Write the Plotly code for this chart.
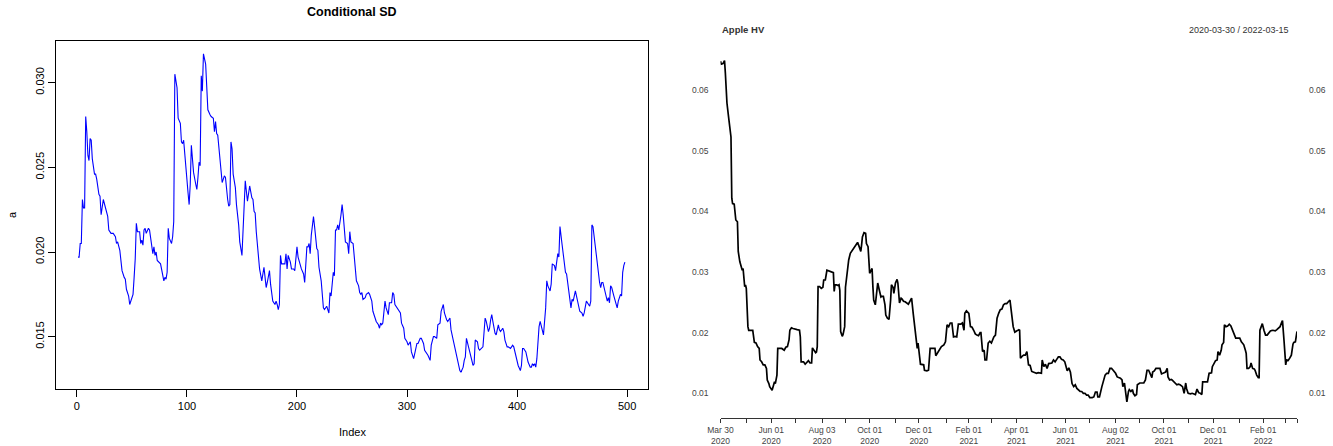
import pandas as pd
import plotly.graph_objects as go

# ---------------- Left panel: Conditional SD (index, value) ----------------
cond_index = [1, 2, 3, 4, 5, 6, 7, 8, 9, 10, 11, 12, 13, 14, 16, 17, 18, 20, 21, 22,
              24, 26, 28, 29, 31, 33, 35, 36, 37, 39, 40, 41, 43, 44, 45, 47, 48, 49, 51, 52,
              53, 54, 55, 57, 58, 59, 60, 61, 62, 63, 65, 66, 68, 69, 70, 71, 72, 73, 76, 77,
              79, 80, 81, 82, 83, 84, 86, 87, 88, 89, 91, 92, 94, 95, 96, 97, 98, 100, 101, 102,
              103, 104, 105, 106, 108, 109, 110, 111, 112, 113, 114, 115, 117, 118, 119, 121, 122, 124, 125, 126,
              127, 128, 130, 131, 132, 134, 135, 137, 138, 139, 140, 141, 142, 144, 145, 147, 148, 150, 151, 152,
              153, 155, 156, 157, 159, 160, 161, 162, 163, 165, 166, 168, 169, 170, 171, 172, 173, 175, 176, 177,
              178, 180, 181, 182, 183, 184, 185, 186, 188, 189, 190, 191, 192, 194, 195, 197, 198, 200, 201, 203,
              204, 206, 207, 209, 210, 211, 212, 213, 215, 216, 218, 219, 220, 222, 223, 224, 225, 227, 228, 229,
              230, 231, 233, 234, 235, 236, 237, 238, 240, 241, 242, 243, 244, 246, 247, 248, 249, 251, 252, 253,
              254, 256, 257, 258, 259, 260, 262, 263, 265, 266, 268, 269, 271, 272, 274, 275, 276, 277, 278, 280,
              281, 283, 284, 286, 287, 288, 289, 291, 292, 294, 295, 297, 298, 300, 301, 303, 304, 306, 307, 309,
              310, 312, 313, 315, 316, 318, 319, 321, 322, 324, 325, 327, 328, 330, 331, 333, 334, 336, 337, 339,
              340, 342, 343, 345, 347, 348, 349, 351, 352, 353, 354, 356, 357, 359, 360, 361, 362, 364, 365, 366,
              368, 369, 371, 372, 374, 375, 376, 377, 378, 380, 381, 383, 384, 385, 387, 388, 389, 391, 392, 394,
              395, 396, 397, 398, 400, 401, 403, 404, 405, 406, 408, 409, 410, 412, 413, 414, 415, 416, 417, 418,
              420, 421, 422, 424, 425, 426, 427, 428, 430, 431, 432, 434, 435, 436, 437, 438, 439, 441, 442, 444,
              445, 447, 448, 449, 450, 451, 453, 454, 456, 457, 459, 460, 461, 462, 463, 465, 466, 467, 468, 469,
              471, 472, 474, 475, 476, 477, 478, 480, 481, 482, 483, 484, 485, 486, 488, 489, 490, 491, 492, 494,
              495, 496, 497, 498]
cond_sd = [0.0197, 0.0197, 0.0205, 0.0205, 0.0231, 0.0226, 0.0226, 0.0280, 0.0271, 0.0257, 0.0254, 0.0267, 0.0266, 0.0255, 0.0246, 0.0246, 0.0243, 0.0234, 0.0233, 0.0222,
           0.0231, 0.0226, 0.0221, 0.0213, 0.0211, 0.0211, 0.0209, 0.0205, 0.0206, 0.0201, 0.0196, 0.0189, 0.0185, 0.0184, 0.0178, 0.0174, 0.0169, 0.0171, 0.0175, 0.0185,
           0.0196, 0.0217, 0.0212, 0.0212, 0.0205, 0.0207, 0.0204, 0.0213, 0.0214, 0.0211, 0.0214, 0.0213, 0.0205, 0.0199, 0.0203, 0.0198, 0.0200, 0.0195, 0.0193, 0.0190,
           0.0183, 0.0185, 0.0184, 0.0188, 0.0214, 0.0208, 0.0205, 0.0209, 0.0218, 0.0305, 0.0297, 0.0279, 0.0276, 0.0265, 0.0264, 0.0266, 0.0257, 0.0244, 0.0235, 0.0228,
           0.0240, 0.0263, 0.0257, 0.0247, 0.0240, 0.0237, 0.0244, 0.0253, 0.0251, 0.0304, 0.0295, 0.0317, 0.0311, 0.0299, 0.0284, 0.0281, 0.0280, 0.0279, 0.0271, 0.0277,
           0.0270, 0.0269, 0.0255, 0.0246, 0.0241, 0.0245, 0.0244, 0.0231, 0.0227, 0.0228, 0.0265, 0.0261, 0.0246, 0.0238, 0.0228, 0.0216, 0.0206, 0.0198, 0.0212, 0.0226,
           0.0242, 0.0230, 0.0236, 0.0239, 0.0232, 0.0231, 0.0224, 0.0223, 0.0212, 0.0200, 0.0190, 0.0183, 0.0186, 0.0191, 0.0185, 0.0179, 0.0182, 0.0189, 0.0181, 0.0175,
           0.0171, 0.0169, 0.0171, 0.0169, 0.0166, 0.0169, 0.0198, 0.0193, 0.0193, 0.0193, 0.0199, 0.0190, 0.0198, 0.0194, 0.0190, 0.0190, 0.0189, 0.0203, 0.0197, 0.0191,
           0.0190, 0.0187, 0.0182, 0.0203, 0.0203, 0.0205, 0.0199, 0.0210, 0.0221, 0.0215, 0.0202, 0.0201, 0.0191, 0.0183, 0.0174, 0.0167, 0.0166, 0.0168, 0.0166, 0.0164,
           0.0176, 0.0174, 0.0188, 0.0186, 0.0213, 0.0213, 0.0216, 0.0213, 0.0222, 0.0228, 0.0222, 0.0213, 0.0206, 0.0205, 0.0199, 0.0212, 0.0206, 0.0205, 0.0199, 0.0193,
           0.0183, 0.0180, 0.0176, 0.0175, 0.0176, 0.0172, 0.0173, 0.0175, 0.0176, 0.0175, 0.0171, 0.0165, 0.0160, 0.0159, 0.0157, 0.0155, 0.0158, 0.0157, 0.0158, 0.0171,
           0.0167, 0.0163, 0.0170, 0.0170, 0.0176, 0.0175, 0.0169, 0.0167, 0.0166, 0.0164, 0.0158, 0.0155, 0.0149, 0.0147, 0.0145, 0.0147, 0.0141, 0.0137, 0.0140, 0.0146,
           0.0146, 0.0149, 0.0149, 0.0146, 0.0142, 0.0140, 0.0139, 0.0136, 0.0145, 0.0150, 0.0150, 0.0149, 0.0157, 0.0158, 0.0165, 0.0169, 0.0164, 0.0160, 0.0159, 0.0161,
           0.0154, 0.0148, 0.0145, 0.0138, 0.0133, 0.0130, 0.0129, 0.0132, 0.0136, 0.0138, 0.0149, 0.0144, 0.0140, 0.0136, 0.0133, 0.0134, 0.0148, 0.0147, 0.0143, 0.0142,
           0.0143, 0.0144, 0.0161, 0.0159, 0.0153, 0.0155, 0.0160, 0.0163, 0.0159, 0.0152, 0.0151, 0.0157, 0.0154, 0.0153, 0.0155, 0.0153, 0.0148, 0.0144, 0.0144, 0.0143,
           0.0144, 0.0145, 0.0144, 0.0141, 0.0137, 0.0133, 0.0130, 0.0133, 0.0143, 0.0143, 0.0141, 0.0138, 0.0135, 0.0132, 0.0132, 0.0134, 0.0133, 0.0134, 0.0132, 0.0137,
           0.0156, 0.0159, 0.0156, 0.0151, 0.0159, 0.0167, 0.0183, 0.0180, 0.0177, 0.0181, 0.0193, 0.0192, 0.0189, 0.0196, 0.0199, 0.0197, 0.0215, 0.0204, 0.0199, 0.0188,
           0.0187, 0.0177, 0.0169, 0.0167, 0.0172, 0.0171, 0.0177, 0.0174, 0.0168, 0.0165, 0.0164, 0.0162, 0.0164, 0.0167, 0.0171, 0.0169, 0.0168, 0.0171, 0.0216, 0.0215,
           0.0204, 0.0195, 0.0186, 0.0182, 0.0179, 0.0182, 0.0182, 0.0177, 0.0174, 0.0171, 0.0173, 0.0170, 0.0180, 0.0179, 0.0174, 0.0171, 0.0170, 0.0167, 0.0171, 0.0175,
           0.0174, 0.0188, 0.0192, 0.0194]
cond_xticks = [0, 100, 200, 300, 400, 500]
cond_yticks = [0.015, 0.020, 0.025, 0.030]
cond_yticktext = ["0.015", "0.020", "0.025", "0.030"]

# ---------------- Right panel: Apple HV (days since start, value) ----------------
hv_start = "2020-03-30"
hv_end = "2022-03-15"
hv_days = [0, 1, 3, 5, 6, 8, 10, 12, 13, 14, 15, 17, 18, 19, 21, 22, 24, 26, 27, 28,
           30, 31, 32, 34, 35, 38, 40, 42, 44, 46, 48, 49, 51, 53, 55, 57, 58, 60, 61, 64,
           65, 67, 68, 70, 71, 74, 76, 79, 81, 83, 85, 86, 88, 90, 93, 95, 98, 99, 100, 103,
           105, 107, 109, 111, 113, 114, 116, 118, 119, 120, 121, 123, 125, 127, 128, 130, 132, 134, 136, 138,
           140, 141, 142, 144, 146, 147, 148, 149, 151, 152, 154, 155, 156, 158, 159, 161, 163, 166, 168, 170,
           172, 174, 175, 176, 178, 180, 181, 183, 185, 186, 188, 189, 190, 192, 194, 195, 197, 199, 200, 202,
           204, 205, 207, 209, 211, 212, 214, 215, 217, 219, 220, 222, 224, 225, 227, 229, 233, 237, 239, 241,
           243, 244, 245, 248, 252, 253, 256, 258, 260, 262, 266, 267, 270, 274, 277, 279, 281, 283, 285, 287,
           289, 291, 293, 295, 298, 300, 302, 303, 305, 308, 310, 312, 314, 316, 318, 320, 322, 323, 325, 327,
           328, 330, 332, 334, 336, 339, 341, 343, 345, 347, 349, 351, 353, 355, 357, 359, 361, 363, 365, 368,
           370, 371, 372, 374, 376, 378, 380, 382, 384, 386, 388, 390, 392, 394, 396, 398, 399, 401, 403, 405,
           407, 409, 411, 413, 415, 417, 419, 421, 423, 425, 427, 430, 432, 434, 436, 438, 440, 442, 444, 446,
           448, 450, 452, 454, 456, 458, 461, 463, 465, 467, 468, 470, 473, 475, 477, 479, 481, 483, 485, 487,
           490, 492, 494, 496, 498, 499, 501, 502, 504, 506, 507, 509, 511, 512, 514, 516, 517, 520, 522, 525,
           527, 529, 531, 533, 535, 536, 538, 540, 543, 545, 547, 549, 550, 552, 554, 555, 557, 559, 560, 562,
           564, 566, 568, 570, 573, 575, 577, 578, 580, 583, 585, 587, 589, 591, 593, 595, 597, 598, 600, 602,
           604, 606, 607, 609, 610, 612, 614, 616, 617, 619, 621, 622, 624, 625, 627, 629, 631, 633, 635, 637,
           639, 641, 644, 646, 649, 651, 652, 653, 655, 657, 658, 660, 662, 663, 665, 667, 668, 669, 671, 672,
           674, 676, 678, 680, 682, 685, 687, 688, 690, 692, 694, 696, 697, 699, 701, 702, 704, 706, 708, 710,
           711, 713, 715]
hv_values = [0.0648, 0.0643, 0.0644, 0.0649, 0.0629, 0.0579, 0.0556, 0.0534, 0.0523, 0.0422, 0.0413, 0.0412, 0.0397, 0.0386, 0.0383, 0.0334, 0.0317, 0.0306, 0.0303, 0.0306,
             0.0276, 0.0279, 0.0273, 0.0210, 0.0204, 0.0204, 0.0204, 0.0184, 0.0183, 0.0177, 0.0174, 0.0155, 0.0152, 0.0147, 0.0147, 0.0141, 0.0122, 0.0116, 0.0111, 0.0105,
             0.0110, 0.0119, 0.0116, 0.0130, 0.0174, 0.0174, 0.0174, 0.0171, 0.0176, 0.0177, 0.0188, 0.0204, 0.0208, 0.0207, 0.0205, 0.0205, 0.0204, 0.0193, 0.0152, 0.0152,
             0.0148, 0.0152, 0.0154, 0.0150, 0.0150, 0.0175, 0.0171, 0.0167, 0.0168, 0.0177, 0.0276, 0.0276, 0.0273, 0.0275, 0.0287, 0.0287, 0.0303, 0.0302, 0.0302, 0.0301,
             0.0299, 0.0268, 0.0279, 0.0279, 0.0278, 0.0279, 0.0270, 0.0202, 0.0194, 0.0197, 0.0210, 0.0275, 0.0287, 0.0301, 0.0320, 0.0331, 0.0335, 0.0339, 0.0345, 0.0349,
             0.0342, 0.0334, 0.0345, 0.0358, 0.0365, 0.0364, 0.0347, 0.0342, 0.0298, 0.0301, 0.0306, 0.0276, 0.0254, 0.0246, 0.0265, 0.0282, 0.0270, 0.0259, 0.0260, 0.0260,
             0.0246, 0.0229, 0.0224, 0.0222, 0.0254, 0.0279, 0.0275, 0.0265, 0.0282, 0.0288, 0.0282, 0.0249, 0.0257, 0.0256, 0.0252, 0.0251, 0.0247, 0.0257, 0.0232, 0.0210,
             0.0183, 0.0174, 0.0183, 0.0148, 0.0147, 0.0138, 0.0137, 0.0138, 0.0174, 0.0174, 0.0174, 0.0162, 0.0168, 0.0177, 0.0180, 0.0185, 0.0213, 0.0210, 0.0216, 0.0216,
             0.0193, 0.0194, 0.0193, 0.0214, 0.0214, 0.0216, 0.0204, 0.0232, 0.0236, 0.0232, 0.0210, 0.0209, 0.0204, 0.0198, 0.0196, 0.0195, 0.0200, 0.0200, 0.0169, 0.0171,
             0.0155, 0.0155, 0.0183, 0.0186, 0.0183, 0.0193, 0.0196, 0.0224, 0.0232, 0.0238, 0.0239, 0.0246, 0.0248, 0.0248, 0.0251, 0.0254, 0.0232, 0.0210, 0.0201, 0.0204,
             0.0205, 0.0204, 0.0158, 0.0161, 0.0163, 0.0163, 0.0169, 0.0147, 0.0146, 0.0136, 0.0135, 0.0135, 0.0133, 0.0134, 0.0133, 0.0133, 0.0155, 0.0144, 0.0148, 0.0141,
             0.0149, 0.0150, 0.0150, 0.0155, 0.0152, 0.0156, 0.0160, 0.0160, 0.0156, 0.0155, 0.0152, 0.0137, 0.0142, 0.0135, 0.0116, 0.0111, 0.0114, 0.0108, 0.0105, 0.0103,
             0.0103, 0.0100, 0.0100, 0.0097, 0.0097, 0.0093, 0.0093, 0.0094, 0.0102, 0.0102, 0.0094, 0.0094, 0.0111, 0.0122, 0.0130, 0.0133, 0.0133, 0.0141, 0.0141, 0.0138,
             0.0133, 0.0127, 0.0126, 0.0125, 0.0122, 0.0111, 0.0117, 0.0103, 0.0086, 0.0103, 0.0106, 0.0103, 0.0106, 0.0100, 0.0096, 0.0098, 0.0114, 0.0117, 0.0117, 0.0117,
             0.0122, 0.0138, 0.0138, 0.0133, 0.0126, 0.0135, 0.0137, 0.0141, 0.0141, 0.0141, 0.0132, 0.0133, 0.0133, 0.0135, 0.0141, 0.0127, 0.0122, 0.0123, 0.0122, 0.0119,
             0.0117, 0.0114, 0.0115, 0.0114, 0.0111, 0.0100, 0.0117, 0.0108, 0.0100, 0.0099, 0.0100, 0.0099, 0.0098, 0.0107, 0.0101, 0.0100, 0.0098, 0.0119, 0.0119, 0.0119,
             0.0119, 0.0133, 0.0133, 0.0134, 0.0144, 0.0149, 0.0154, 0.0155, 0.0169, 0.0163, 0.0171, 0.0180, 0.0184, 0.0213, 0.0210, 0.0211, 0.0214, 0.0211, 0.0204, 0.0199,
             0.0191, 0.0191, 0.0191, 0.0185, 0.0180, 0.0171, 0.0166, 0.0141, 0.0141, 0.0144, 0.0150, 0.0141, 0.0140, 0.0138, 0.0130, 0.0126, 0.0126, 0.0204, 0.0211, 0.0215,
             0.0204, 0.0196, 0.0196, 0.0200, 0.0203, 0.0204, 0.0204, 0.0203, 0.0205, 0.0207, 0.0210, 0.0217, 0.0220, 0.0185, 0.0147, 0.0155, 0.0154, 0.0158, 0.0163, 0.0181,
             0.0184, 0.0185, 0.0202]
hv_tick_dates = ["2020-03-30", "2020-05-01", "2020-06-01", "2020-07-01", "2020-08-03", "2020-09-01",
                 "2020-10-01", "2020-11-02", "2020-12-01", "2021-01-04", "2021-02-01", "2021-03-01",
                 "2021-04-01", "2021-05-03", "2021-06-01", "2021-07-01", "2021-08-02", "2021-09-01",
                 "2021-10-01", "2021-11-01", "2021-12-01", "2022-01-03", "2022-02-01", "2022-03-01",
                 "2022-03-15"]
hv_tick_text = ["Mar 30<br>2020", "", "Jun 01<br>2020", "", "Aug 03<br>2020", "",
                "Oct 01<br>2020", "", "Dec 01<br>2020", "", "Feb 01<br>2021", "",
                "Apr 01<br>2021", "", "Jun 01<br>2021", "", "Aug 02<br>2021", "",
                "Oct 01<br>2021", "", "Dec 01<br>2021", "", "Feb 01<br>2022", "", ""]
hv_yticks = [0.01, 0.02, 0.03, 0.04, 0.05, 0.06]
hv_yticktext = ["0.01", "0.02", "0.03", "0.04", "0.05", "0.06"]

hv_dates = pd.to_datetime(hv_start) + pd.to_timedelta(hv_days, unit="D")

W, H = 1333, 446
FONT = "Liberation Sans, Arial, sans-serif"
GREY = "#444444"


def px_x(p):
    return p / W


def px_y(p):
    return 1 - p / H


fig = go.Figure()
fig.add_trace(go.Scatter(x=cond_index, y=cond_sd, mode="lines",
                         line=dict(color="#0000ff", width=1.1),
                         xaxis="x", yaxis="y", showlegend=False, hoverinfo="skip"))
fig.add_trace(go.Scatter(x=hv_dates, y=hv_values, mode="lines",
                         line=dict(color="black", width=1.7),
                         xaxis="x2", yaxis="y2", showlegend=False, hoverinfo="skip"))
fig.add_trace(go.Scatter(x=[hv_dates[0]], y=[hv_values[0]], mode="markers",
                         marker=dict(opacity=0), xaxis="x2", yaxis="y3",
                         showlegend=False, hoverinfo="skip"))

fig.update_layout(
    template="none",
    xaxis=dict(domain=[px_x(56), px_x(648)], range=[-19, 519], automargin=False,
               tickvals=cond_xticks, ticktext=[str(v) for v in cond_xticks],
               ticks="outside", ticklen=7, tickcolor="black", showline=True,
               linecolor="black", linewidth=1, mirror=True, showgrid=False,
               zeroline=False, tickfont=dict(size=11, color="black", family=FONT),
               anchor="y"),
    yaxis=dict(domain=[px_y(389), px_y(41)], range=[0.01191, 0.03246], automargin=False,
               tickvals=cond_yticks, ticktext=cond_yticktext, tickangle=-90,
               ticks="outside", ticklen=7, tickcolor="black", showline=True,
               linecolor="black", linewidth=1, mirror=True, showgrid=False,
               zeroline=False, tickfont=dict(size=11, color="black", family=FONT),
               anchor="x"),
    xaxis2=dict(domain=[px_x(720.5), px_x(1297)], type="date", automargin=False,
                range=[hv_start, hv_end], tickvals=hv_tick_dates, ticktext=hv_tick_text,
                tickangle=0,
                ticks="outside", ticklen=4, tickcolor="#333333", showline=True,
                linecolor="#333333", linewidth=1, showgrid=False, zeroline=False,
                tickfont=dict(size=8.5, color=GREY, family=FONT), anchor="y2"),
    yaxis2=dict(domain=[px_y(418), px_y(50)], range=[0.005924, 0.06665], automargin=False,
                tickvals=hv_yticks, ticktext=hv_yticktext, ticks="",
                showline=False, showgrid=False, zeroline=False,
                ticklabelstandoff=11,
                tickfont=dict(size=8.5, color=GREY, family=FONT), anchor="x2"),
    yaxis3=dict(domain=[px_y(418), px_y(50)], range=[0.005924, 0.06665], automargin=False,
                overlaying="y2", side="right",
                tickvals=hv_yticks, ticktext=hv_yticktext, ticks="",
                showline=False, showgrid=False, zeroline=False,
                ticklabelstandoff=11,
                tickfont=dict(size=8.5, color=GREY, family=FONT), anchor="x2"),
)

annotations = [
    dict(text="<b>Conditional SD</b>", x=px_x(352), y=px_y(12), xanchor="center",
         yanchor="middle", font=dict(size=12.5, color="black", family=FONT)),
    dict(text="Index", x=px_x(352), y=px_y(432), xanchor="center", yanchor="middle",
         font=dict(size=11, color="black", family=FONT)),
    dict(text="a", x=px_x(12), y=px_y(215), xanchor="center", yanchor="middle",
         textangle=-90, font=dict(size=11, color="black", family=FONT)),
    dict(text="<b>Apple HV</b>", x=px_x(720), y=px_y(30), xanchor="left",
         yanchor="middle", font=dict(size=9.5, color="#333333", family=FONT)),
    dict(text="2020-03-30 / 2022-03-15", x=px_x(1291), y=px_y(30), xanchor="right",
         yanchor="middle", font=dict(size=9, color="#333333", family=FONT)),
]
for a in annotations:
    a.update(xref="paper", yref="paper", showarrow=False)

fig.update_layout(
    width=W, height=H, autosize=False,
    margin=dict(l=0, r=0, t=0, b=0, pad=0, autoexpand=False),
    paper_bgcolor="white", plot_bgcolor="white",
    font=dict(family=FONT),
    annotations=annotations,
    showlegend=False,
)

fig.write_html("out.html",
               config={"displayModeBar": False, "staticPlot": True},
               post_script="document.body.style.margin='0px';document.body.style.overflow='hidden';")
